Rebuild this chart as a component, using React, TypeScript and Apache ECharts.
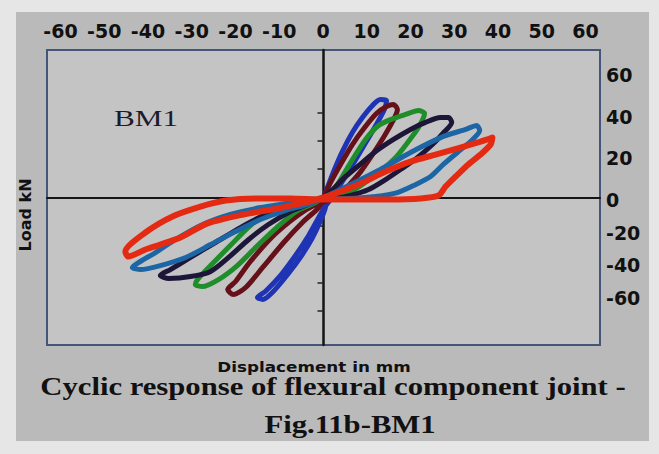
import React, { useEffect, useRef } from "react";
import * as echarts from "echarts";

// Tick labels shown around the plot
const dispTickLabels = [-60, -50, -40, -30, -20, -10, 0, 10, 20, 30, 40, 50, 60];
const loadTickLabelsPos = [0, 20, 40, 60];
const loadTickLabelsNeg = [-60, -40, -20, 0];
const innerLoadTicks = [-60, -45, -30, -15, 15, 30, 45];

// Hysteresis loops: [displacement mm, load kN]
const loop1Blue: [number, number][] = [
  [0, 0], [0.9, 5.3], [2.3, 13.7], [4.3, 24.3], [6.6, 34.4], [8.9, 42.3], [11.2, 48.7], [13.0, 51.8],
  [14.4, 51.3], [13.9, 46.5], [12.1, 38.6], [9.8, 29.6], [7.1, 19.0], [4.6, 9.5], [2.7, 2.6], [1.6, -1.1],
  [0.2, -5.3], [-1.1, -10.6], [-3.4, -20.1], [-6.4, -30.7], [-9.8, -41.2], [-13.3, -49.7], [-15.1, -52.9],
  [-13.9, -53.9], [-11.7, -50.2], [-8.2, -40.7], [-5.0, -30.7], [-2.5, -21.2], [-0.7, -12.2], [0.5, -4.2], [0, 0],
];
const loop2Maroon: [number, number][] = [
  [0, 0], [1.6, 7.9], [3.9, 17.5], [6.6, 28.0], [9.4, 37.0], [12.1, 44.4], [14.4, 48.1], [16.0, 49.2],
  [16.9, 46.5], [15.8, 40.2], [13.7, 31.7], [11.2, 22.7], [8.5, 13.7], [5.7, 6.3], [3.4, 1.1], [1.1, -1.6],
  [-1.8, -3.7], [-5.9, -9.5], [-11.4, -20.1], [-16.7, -33.8], [-20.1, -44.4], [-21.9, -48.7],
  [-20.6, -51.3], [-17.8, -47.6], [-13.9, -37.0], [-9.1, -23.8], [-4.6, -12.7], [-1.1, -5.3], [0, 0],
];
const loop3Green: [number, number][] = [
  [0, 0], [1.6, 2.6], [3.2, 6.9], [6.2, 18.5], [9.6, 30.7], [12.6, 38.1], [15.3, 41.2], [18.7, 43.9], [21.7, 46.0],
  [23.1, 44.4], [21.7, 37.0], [19.4, 29.6], [16.5, 21.2], [12.6, 13.2], [8.5, 6.3], [5.0, 1.6], [2.3, -0.5],
  [-3.0, -1.6], [-7.5, -3.7], [-12.1, -7.9], [-16.7, -14.8], [-21.3, -25.4], [-25.8, -36.0], [-28.8, -43.4],
  [-29.3, -46.0], [-27.7, -47.1], [-24.0, -43.4], [-19.7, -36.0], [-15.3, -25.9], [-10.7, -15.9], [-6.2, -7.4],
  [-1.8, -2.6], [0, 0],
];
const loop4Navy: [number, number][] = [
  [0, 0], [2.1, 4.2], [4.3, 9.5], [7.8, 16.4], [11.9, 24.3], [16.0, 30.7], [19.9, 36.0], [23.3, 39.7], [26.7, 42.3],
  [28.6, 42.3], [29.3, 39.7], [27.7, 34.9], [24.9, 28.0], [21.5, 21.2], [17.6, 14.8], [14.2, 9.5], [10.3, 4.2],
  [6.2, 1.1], [2.7, -0.5],
  [-3.0, -1.6], [-7.5, -4.2], [-13.3, -9.0], [-19.0, -15.9], [-24.7, -23.8], [-30.4, -31.7], [-35.0, -38.1],
  [-37.3, -41.2], [-35.4, -42.8], [-30.4, -41.8], [-25.8, -39.1], [-21.7, -31.7], [-17.1, -22.2], [-12.6, -14.3],
  [-7.5, -7.4], [-3.0, -3.2], [0, 0],
];
const loop5Cyan: [number, number][] = [
  [0, 0], [3.9, 4.2], [8.5, 9.5], [13.0, 14.8], [19.9, 23.8], [27.4, 32.3], [32.5, 36.0], [35.0, 38.1],
  [35.7, 35.4], [33.6, 29.6], [30.6, 23.8], [27.4, 17.5], [24.5, 11.1], [20.6, 6.3], [16.9, 2.6], [11.9, 0.5],
  [6.2, -0.5],
  [-3.0, -1.1], [-8.7, -3.2], [-14.4, -5.3], [-21.3, -9.0], [-28.1, -14.8], [-33.8, -22.2], [-38.4, -29.1],
  [-42.3, -34.4], [-43.7, -37.0], [-41.8, -38.1], [-37.3, -36.0], [-31.5, -31.7], [-25.8, -24.9], [-20.1, -18.0],
  [-14.4, -11.6], [-8.7, -6.9], [-3.0, -3.2], [0, 0],
];
const loop6Red: [number, number][] = [
  [0, 0], [3.9, 3.2], [8.5, 7.4], [14.2, 13.7], [19.9, 19.0], [25.6, 22.7], [31.3, 26.4], [35.9, 29.6], [38.6, 31.7],
  [38.2, 28.0], [35.9, 22.7], [33.1, 17.5], [30.2, 11.1], [27.9, 5.8], [26.3, 1.1], [22.2, -0.5], [15.3, -1.1],
  [8.5, -1.1], [0, -1.1], [-7.5, -0.5], [-15.5, -0.5], [-22.4, -1.6], [-28.1, -4.8], [-34.5, -10.0], [-40.7, -18.5],
  [-45.3, -28.6], [-44.6, -31.2], [-40.7, -27.5], [-37.3, -24.9], [-32.7, -21.2], [-26.5, -13.7], [-18.3, -9.0],
  [-10.5, -5.8], [-4.1, -2.6], [0, 0],
];

const loops = [
  { name: "Cycle 1", data: loop1Blue, color: "#1f33b5", width: 5 },
  { name: "Cycle 2", data: loop2Maroon, color: "#66101a", width: 5 },
  { name: "Cycle 3", data: loop3Green, color: "#1f8d2a", width: 5 },
  { name: "Cycle 4", data: loop4Navy, color: "#1e1638", width: 5 },
  { name: "Cycle 5", data: loop5Cyan, color: "#1d66a6", width: 5 },
  { name: "Cycle 6", data: loop6Red, color: "#e52a13", width: 6 },
];

const tickFont = { color: "#111", fontFamily: "DejaVu Sans", fontWeight: "bold" as const, fontSize: 19 };

export default function App() {
  const ref = useRef<HTMLDivElement>(null);
  useEffect(() => {
    if (!ref.current) return;
    document.body.style.margin = "0";
    const chart = echarts.init(ref.current, undefined, { renderer: "svg" });
    const hidden = (gridIndex: number) => ({ gridIndex, type: "value" as const, show: false, min: 0, max: 1 });
    chart.setOption({
      animation: false,
      backgroundColor: "#e6e6e6",
      grid: [
        { left: 16, top: 12, width: 633, height: 429, show: true, backgroundColor: "#bababa", borderWidth: 0 },
        { left: 47, top: 50, width: 553, height: 295, show: true, backgroundColor: "#c4c4c4", borderColor: "#45557a", borderWidth: 2 },
        { left: 60.5, top: 44, width: 525, height: 10 },
        { left: 100, top: 75, width: 500, height: 125 },
        { left: 100, top: 200, width: 500, height: 98 },
      ],
      xAxis: [
        hidden(0),
        {
          gridIndex: 1, type: "value", min: -63.2, max: 63.2,
          axisLine: { onZero: true, lineStyle: { color: "#151515", width: 2 } },
          axisTick: { show: false }, axisLabel: { show: false }, splitLine: { show: false },
        },
        {
          gridIndex: 2, type: "value", position: "top",
          min: dispTickLabels[0], max: dispTickLabels[dispTickLabels.length - 1],
          interval: dispTickLabels[1] - dispTickLabels[0],
          axisLine: { show: false }, axisTick: { show: false }, splitLine: { show: false },
          axisLabel: { ...tickFont, margin: 4 },
        },
        hidden(3),
        hidden(4),
      ],
      yAxis: [
        hidden(0),
        {
          gridIndex: 1, type: "value", min: -78, max: 78,
          axisLine: { onZero: true, lineStyle: { color: "#151515", width: 2.5 } },
          axisTick: { show: true, inside: false, length: 6, customValues: innerLoadTicks, lineStyle: { color: "#222", width: 1.5 } },
          axisLabel: { show: false }, splitLine: { show: false },
        },
        hidden(2),
        {
          gridIndex: 3, type: "value", position: "right",
          min: loadTickLabelsPos[0], max: loadTickLabelsPos[loadTickLabelsPos.length - 1],
          interval: loadTickLabelsPos[1] - loadTickLabelsPos[0],
          axisLine: { show: false }, axisTick: { show: false }, splitLine: { show: false },
          axisLabel: { ...tickFont, margin: 6 },
        },
        {
          gridIndex: 4, type: "value", position: "right",
          min: loadTickLabelsNeg[0], max: loadTickLabelsNeg[loadTickLabelsNeg.length - 1],
          interval: loadTickLabelsNeg[1] - loadTickLabelsNeg[0],
          axisLine: { show: false }, axisTick: { show: false }, splitLine: { show: false },
          axisLabel: { ...tickFont, margin: 6, showMaxLabel: false },
        },
      ],
      series: loops.map((l) => ({
        name: l.name,
        type: "line",
        xAxisIndex: 1,
        yAxisIndex: 1,
        data: l.data,
        showSymbol: false,
        symbol: "none",
        smooth: 0.25,
        lineStyle: { color: l.color, width: l.width, cap: "round", join: "round" },
        itemStyle: { color: l.color },
      })),
      graphic: [
        {
          type: "text", x: 146, y: 118, scaleX: 1.3,
          style: { text: "BM1", font: '24px "Liberation Serif"', fill: "#1b1b2b", align: "center", verticalAlign: "middle", textAlign: "center", textVerticalAlign: "middle" },
        },
        {
          type: "text", x: 25, y: 215, rotation: Math.PI / 2,
          style: { text: "Load kN", font: 'bold 16px "DejaVu Sans"', fill: "#111", align: "center", verticalAlign: "middle", textAlign: "center", textVerticalAlign: "middle" },
        },
        {
          type: "text", x: 314, y: 367, scaleX: 1.2,
          style: { text: "Displacement in mm", font: 'bold 14px "DejaVu Sans"', fill: "#111", align: "center", verticalAlign: "middle", textAlign: "center", textVerticalAlign: "middle" },
        },
        {
          type: "text", x: 333, y: 386, scaleX: 1.18,
          style: { text: "Cyclic response of flexural component joint -", font: 'bold 26px "Liberation Serif"', fill: "#111", align: "center", verticalAlign: "middle", textAlign: "center", textVerticalAlign: "middle" },
        },
        {
          type: "text", x: 350, y: 424, scaleX: 1.18,
          style: { text: "Fig.11b-BM1", font: 'bold 26px "Liberation Serif"', fill: "#111", align: "center", verticalAlign: "middle", textAlign: "center", textVerticalAlign: "middle" },
        },
      ],
    });
    return () => chart.dispose();
  }, []);
  return <div ref={ref} style={{ position: "fixed", left: 0, top: 0, width: 659, height: 454 }} />;
}
